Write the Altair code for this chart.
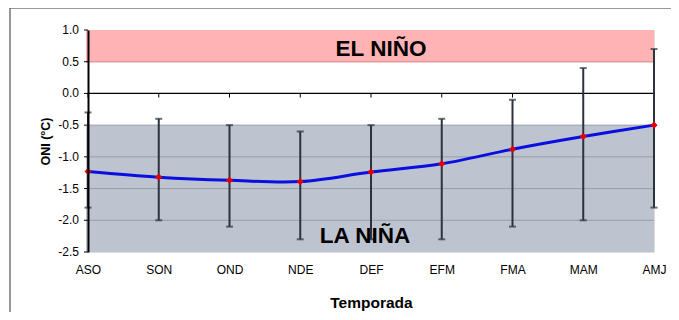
import altair as alt
import pandas as pd

seasons = ["ASO", "SON", "OND", "NDE", "DEF", "EFM", "FMA", "MAM", "AMJ"]
oni = [-1.23, -1.32, -1.37, -1.39, -1.24, -1.11, -0.88, -0.68, -0.50]
upper = [-0.3, -0.4, -0.5, -0.6, -0.5, -0.4, -0.1, 0.4, 0.7]
lower = [-1.8, -2.0, -2.1, -2.3, -2.3, -2.3, -2.1, -2.0, -1.8]
yticks = [-2.5, -2.0, -1.5, -1.0, -0.5, 0.0, 0.5, 1.0]
ytick_labels = ["-2.5", "-2.0", "-1.5", "-1.0", "-0.5", "0.0", "0.5", "1.0"]
band_lo = [0.5, -2.5]
band_hi = [1.0, -0.5]
band_name = ["EL NIÑO", "LA NIÑA"]
band_color = ["#FFB3B5", "#BDC4D0"]

FONT = "Liberation Sans"
W, H = 566, 222

df = pd.DataFrame({"season": seasons, "oni": oni, "upper": upper, "lower": lower})
bands = pd.DataFrame({"lo": band_lo, "hi": band_hi, "name": band_name, "color": band_color})
ticks_df = pd.DataFrame({"y": yticks, "label": ytick_labels})
grid = ticks_df[(ticks_df.y > -2.5) & (ticks_df.y < -0.4)]

xs = alt.X("season:N", sort=seasons,
           scale=alt.Scale(type="point", padding=0),
           axis=alt.Axis(title="Temporada", labelFont=FONT, labelFontSize=12,
                         labelColor="#000", labelAngle=0, ticks=False, domain=False,
                         labelPadding=12, titleFont=FONT, titleFontSize=15.5,
                         titleFontWeight="bold", titleColor="#000", titlePadding=20))
yscale = alt.Scale(domain=[-2.5, 1.0], nice=False, zero=False)
yaxis = alt.Axis(title="ONI (°C)", labels=False, ticks=False, grid=False, zindex=1,
                 domainColor="#000", domainWidth=2,
                 titleFont=FONT, titleFontSize=12.5, titleFontWeight="bold",
                 titleColor="#000", titlePadding=36)


def Y(field):
    return alt.Y(field, scale=yscale, axis=yaxis, title="ONI (°C)")


base = alt.Chart(df)

band_rect = alt.Chart(bands).mark_rect().encode(
    x=alt.value(-2), x2=alt.value(W),
    y=Y("lo:Q"), y2="hi:Q",
    color=alt.Color("color:N", scale=None),
)

grid_rules = alt.Chart(grid).mark_rule(color="#969EAA", strokeWidth=1).encode(
    y=Y("y:Q"), x=alt.value(0), x2=alt.value(W)
)
pink_rule = alt.Chart(bands).transform_filter("datum.lo > 0").mark_rule(
    color="#E4999D", strokeWidth=1.5).encode(
    y=Y("lo:Q"), x=alt.value(-2), x2=alt.value(W)
)
zero_rule = alt.Chart(bands).transform_filter("datum.lo > 0").mark_rule(
    color="#000", strokeWidth=1.2).encode(
    y=alt.datum(0), x=alt.value(0), x2=alt.value(W)
)
zero_ticks = base.mark_rule(color="#000", strokeWidth=1).encode(
    x=xs, y=alt.datum(0), y2=alt.datum(-0.065)
)

ytick_marks = alt.Chart(ticks_df).mark_rule(color="#000", strokeWidth=1).encode(
    y=Y("y:Q"), x=alt.value(-4), x2=alt.value(0)
)
ytick_text = alt.Chart(ticks_df).mark_text(
    font=FONT, fontSize=12, color="#000", align="right", baseline="middle").encode(
    y=Y("y:Q"), x=alt.value(-9), text="label:N"
)

err = base.mark_rule(color="#2B333F", strokeWidth=2).encode(
    x=xs, y=Y("upper:Q"), y2="lower:Q"
)
cap_up = base.mark_tick(color="#2B333F", thickness=2, size=7, orient="horizontal").encode(
    x=xs, y=Y("upper:Q")
)
cap_lo = base.mark_tick(color="#2B333F", thickness=2, size=7, orient="horizontal").encode(
    x=xs, y=Y("lower:Q")
)

line = base.mark_line(color="#0A0FE0", strokeWidth=3, interpolate="catmull-rom").encode(
    x=xs, y=Y("oni:Q")
)
pts = base.mark_point(shape="diamond", filled=True, color="#E00000", size=50, opacity=1).encode(
    x=xs, y=Y("oni:Q")
)

el_txt = alt.Chart(bands).transform_filter("datum.lo > 0").mark_text(
    font=FONT, fontSize=22.5, fontWeight="bold", color="#000",
    baseline="bottom", align="center", dx=10, dy=-1).encode(
    x=alt.datum("DEF"),
    y=Y("lo:Q"), text="name:N"
)
la_txt = alt.Chart(bands).transform_filter("datum.lo < 0").mark_text(
    font=FONT, fontSize=22.5, fontWeight="bold", color="#000",
    baseline="bottom", align="center", dx=-6, dy=-4).encode(
    x=alt.datum("DEF"),
    y=Y("lo:Q"), text="name:N"
)

outer = alt.Chart(bands).transform_filter("datum.lo > 0").mark_rect(
    filled=False, stroke="#333", strokeWidth=1).encode(
    x=alt.value(-78), y=alt.value(-22), x2=alt.value(589), y2=alt.value(300)
)

chart = alt.layer(
    band_rect, grid_rules, pink_rule, zero_rule, zero_ticks, ytick_marks, ytick_text,
    err, cap_up, cap_lo, line, pts, el_txt, la_txt, outer
).properties(
    width=W, height=H,
    autosize=alt.AutoSizeParams(type="none"),
    padding={"left": 80, "top": 22, "right": 17, "bottom": 60},
).configure_view(stroke="#000", strokeWidth=1.5).configure(background="white")

chart.save("out.html", embed_options={"renderer": "svg", "actions": False})
